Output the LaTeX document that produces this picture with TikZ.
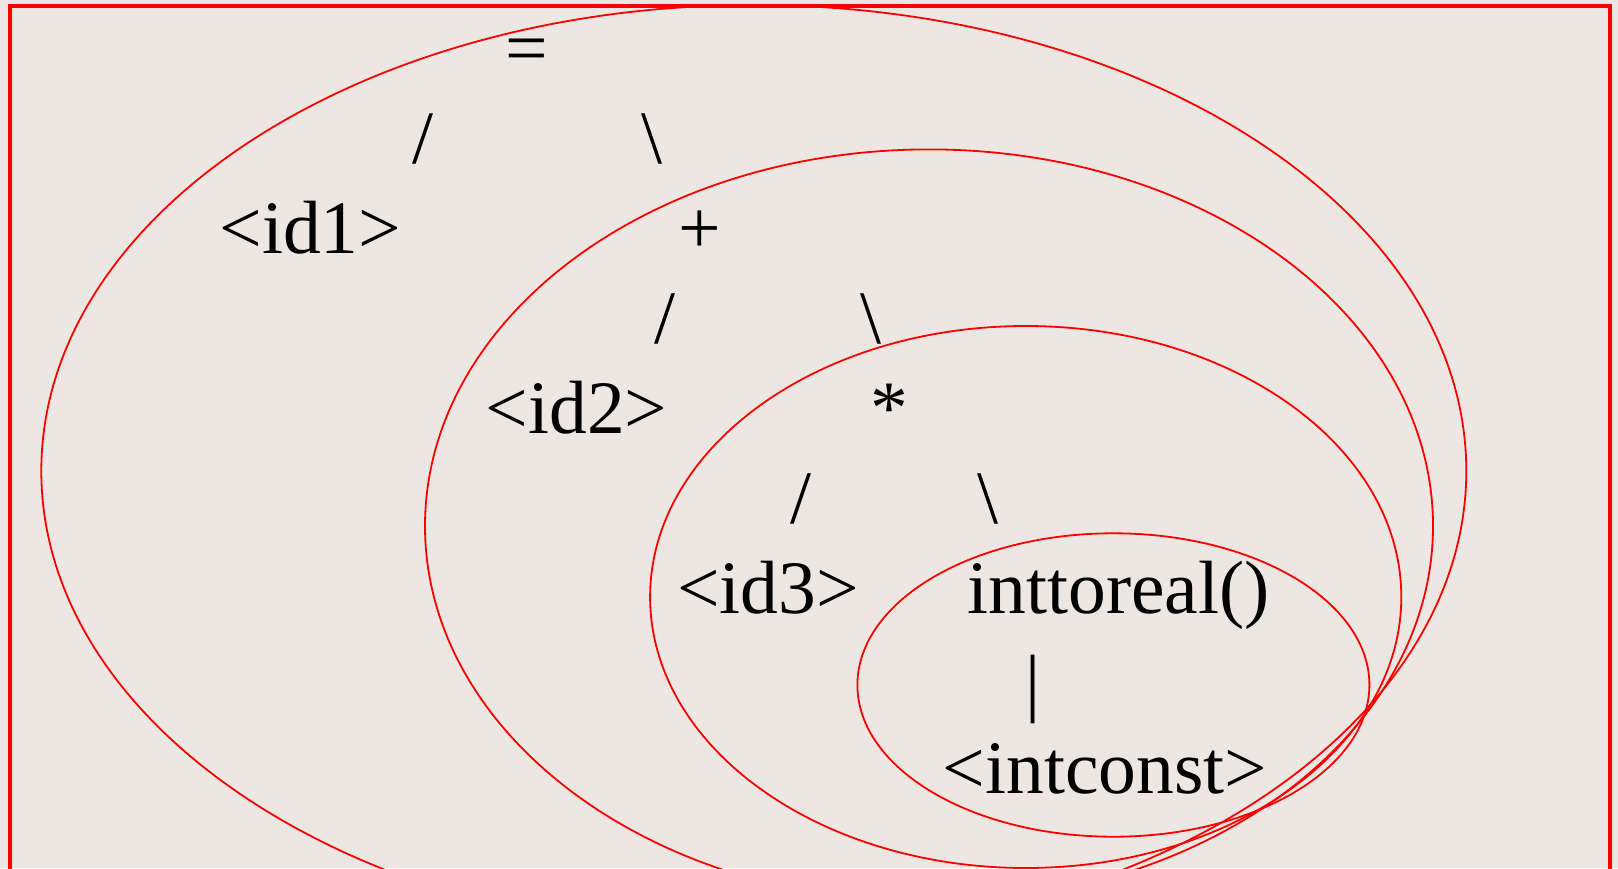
\documentclass[tikz,border=0pt]{standalone}
\usepackage{fontspec}
\setmainfont{Liberation Serif}
\definecolor{bgbeige}{RGB}{236,231,227}
\definecolor{pured}{RGB}{255,0,0}
\begin{document}
\begin{tikzpicture}[x=1pt,y=-1pt,
  lbl/.style={anchor=base,inner sep=0pt,font=\fontsize{75.5}{80}\selectfont},
  ring/.style={draw=pured,line width=1.8pt},
  frame/.style={draw=pured,line width=4pt}]
\useasboundingbox (0,0) rectangle (1618,868);
\clip (0,0) rectangle (1618,868);
\fill[bgbeige] (0,0) rectangle (1618,868);
\draw[frame] (10,6) rectangle (1609.5,900);
% ellipses
\draw[ring] (753.8,471) ellipse [x radius=712.5pt, y radius=466pt];
\draw[ring] (929,526) ellipse [x radius=504pt, y radius=376.6pt];
\draw[ring] (1025.7,597) ellipse [x radius=375.6pt, y radius=271pt];
\draw[ring] (1113.4,685) ellipse [x radius=256pt, y radius=151.7pt];
% texts
\node[lbl] (eq) at (527,73) {=};
\node[lbl] (s1l) at (422.5,163) {/};
\node[lbl] (s1r) at (652,163) {\textbackslash};
\node[lbl] (id1) at (310.4,253) {<id1>};
\node[lbl] (plus) at (700,253) {+};
\node[lbl] (s2l) at (664.5,343) {/};
\node[lbl] (s2r) at (870.5,343) {\textbackslash};
\node[lbl] (id2) at (576.5,433) {<id2>};
\node[lbl] (star) at (889,433) {*};
\node[lbl] (s3l) at (801,523) {/};
\node[lbl] (s3r) at (988,523) {\textbackslash};
\node[lbl] (id3) at (768,613) {<id3>};
\node[lbl] (itr) at (1118.5,613) {inttoreal()};
\node[lbl] (bar) at (1033,707) {|};
\node[lbl] (ic) at (1104.9,793) {<intconst>};
\end{tikzpicture}
\end{document}
